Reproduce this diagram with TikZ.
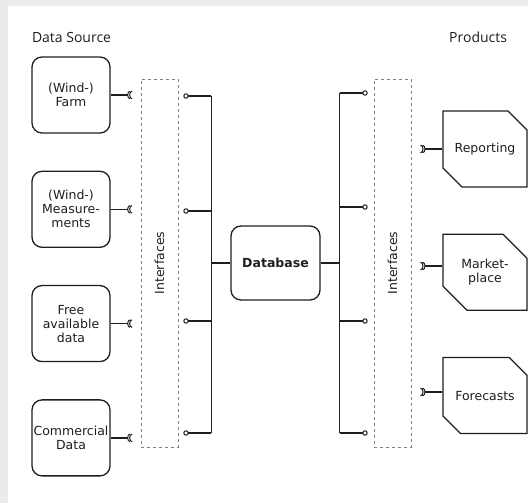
\documentclass[tikz,border=0pt]{standalone}
\usepackage{fontspec}
\setmainfont{DejaVu Sans}
\newfontfamily\headfont{Open Sans}
\usepackage{tikz}
\usetikzlibrary{positioning, arrows.meta, shapes.misc}

\definecolor{bandgray}{HTML}{EBEBEB}
\definecolor{ink}{HTML}{1E1E1E}

\begin{document}
\begin{tikzpicture}[x=1pt, y=1pt, line width=1.3pt, draw=ink, text=ink,
    font=\fontsize{12.5}{14}\selectfont,
    srcbox/.style={rectangle, draw, rounded corners=10pt, align=center,
      minimum width=78pt, minimum height=76pt, inner sep=1pt},
    prodbox/.style={chamfered rectangle, draw, align=center,
      chamfered rectangle corners={north east, south west},
      chamfered rectangle xsep=12pt, chamfered rectangle ysep=12pt,
      minimum width=84pt, minimum height=76pt, inner sep=1pt},
    iface/.style={rectangle, draw=gray, dashed, line width=0.6pt,
      minimum width=37pt, minimum height=368pt},
    cup/.style={line width=1pt},
    heading/.style={inner sep=0pt, font=\headfont\fontsize{14}{16}\selectfont}]

    \useasboundingbox (0,0) rectangle (528,503);
    \fill [bandgray] (0,0) rectangle (8,503);
    \fill [bandgray] (0,497) rectangle (528,503);

    % nodes
    \node [rectangle, draw, rounded corners=10pt, minimum width=89pt,
      minimum height=74pt] (db) at (275.5,240) {\textbf{Database}};

    \node [iface] (lif) [left = 52pt of db] {};
    \node [rotate=90] at (lif) {Interfaces};
    \node [iface] (rif) [right = 53pt of db] {};
    \node [rotate=90] at (rif) {Interfaces};

    % data sources
    \node [srcbox] (farm) at (71,408) {(Wind-)\\Farm};
    \node [srcbox] (meas) [below = 37pt of farm] {(Wind-)\\Measure-\\ments};
    \node [srcbox] (free) [below = 37pt of meas] {Free\\available\\data};
    \node [srcbox] (comm) [below = 37pt of free] {Commercial\\Data};

    % products
    \node [prodbox] (rep) at (485,354) {Reporting};
    \node [prodbox] (mkt) [below = 46pt of rep] {Market-\\place};
    \node [prodbox] (fc) [below = 46pt of mkt] {Forecasts};

    \node [heading, above right = 13pt and 0pt of farm.north west] (srchead) {Data Source};
    \node [heading, anchor=base east, xshift=-20pt] (prodhead)
      at (srchead.base -| rep.east) {Products};

    % sockets
    \foreach \src/\i in {farm/1, meas/2, free/3, comm/4}
      \coordinate [right = 17pt of \src.east] (ls\i);
    \foreach \i/\y in {1/354, 2/237, 3/111}
      \coordinate (rs\i) at (425,\y);

    % balls
    \foreach \i/\y in {1/407, 2/292, 3/182, 4/70}
      \coordinate (lb\i) at (186,\y);
    \foreach \i/\y in {1/410, 2/296, 3/182, 4/70}
      \coordinate (rb\i) at (365,\y);
    \coordinate [left = 19pt of db.west] (lbus);
    \coordinate [right = 19pt of db.east] (rbus);

    % edges
    \foreach \src/\i in {farm/1, meas/2, free/3, comm/4}{
      \draw (\src.east) -- (ls\i);
      \draw [cup] (ls\i) ++(2.5,3.8) arc [start angle=90, end angle=270, x radius=2.5, y radius=3.8];
      \draw [cup] (ls\i) ++(4.5,3.8) arc [start angle=90, end angle=270, x radius=2.5, y radius=3.8];
    }
    \foreach \prod/\i in {rep/1, mkt/2, fc/3}{
      \draw (rs\i -| \prod.west) -- (rs\i);
      \draw [cup] (rs\i) ++(-2.5,3.8) arc [start angle=90, end angle=-90, x radius=2.5, y radius=3.8];
      \draw [cup] (rs\i) ++(-4.5,3.8) arc [start angle=90, end angle=-90, x radius=2.5, y radius=3.8];
    }

    \draw (db.west) -- (lbus);
    \draw (lbus |- lb1) -- (lbus |- lb4);
    \foreach \i in {1,...,4}{
      \draw (lbus |- lb\i) -- (lb\i);
      \draw [cup, fill=white] (lb\i) circle (2.2pt);
    }

    \draw (db.east) -- (rbus);
    \draw (rbus |- rb1) -- (rbus |- rb4);
    \foreach \i in {1,...,4}{
      \draw (rbus |- rb\i) -- (rb\i);
      \draw [cup, fill=white] (rb\i) circle (2.2pt);
    }
\end{tikzpicture}
\end{document}
